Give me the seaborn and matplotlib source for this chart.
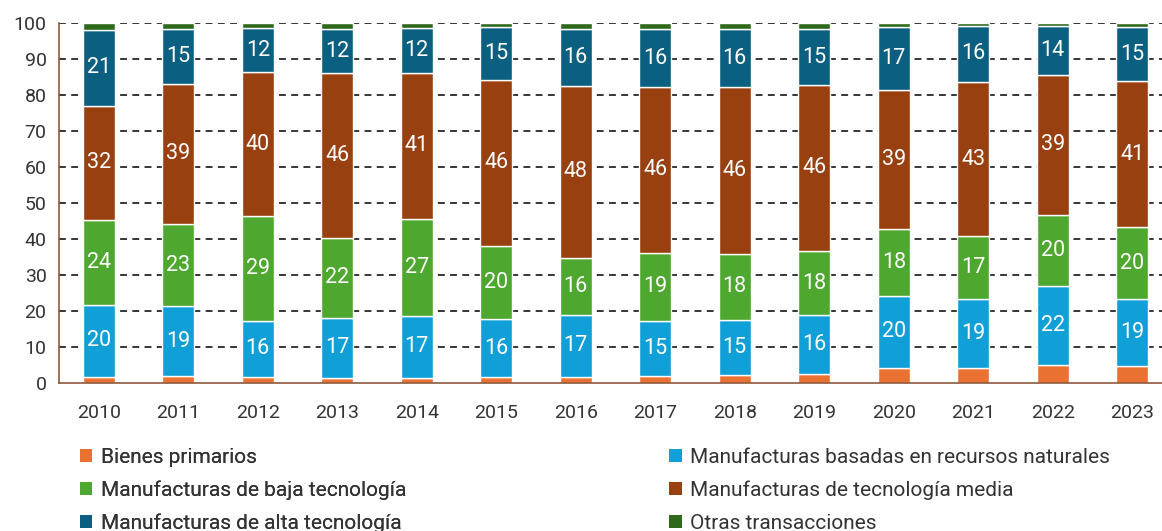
import numpy as np
import pandas as pd
import seaborn as sns
import matplotlib.pyplot as plt
from matplotlib.patches import Patch

# Composición de exportaciones por intensidad tecnológica (%)
years = ["2010", "2011", "2012", "2013", "2014", "2015", "2016",
         "2017", "2018", "2019", "2020", "2021", "2022", "2023"]
bienes_primarios = [1.7, 1.9, 1.7, 1.5, 1.5, 1.6, 1.7, 1.9, 2.2, 2.6, 4.1, 4.3, 5.0, 4.7]
recursos_naturales = [20.1, 19.4, 15.6, 16.6, 17.1, 16.1, 17.2, 15.4, 15.4, 16.2, 20.2, 19.0, 22.0, 18.6]
baja_tecnologia = [23.6, 22.9, 29.1, 22.3, 26.9, 20.4, 15.9, 18.9, 18.2, 17.9, 18.4, 17.4, 19.7, 19.9]
tecnologia_media = [31.6, 38.9, 39.9, 45.6, 40.7, 46.2, 47.8, 46.0, 46.3, 46.1, 38.7, 42.9, 38.9, 40.6]
alta_tecnologia = [21.1, 15.3, 12.2, 12.4, 12.4, 14.6, 15.8, 16.0, 16.2, 15.4, 17.4, 15.6, 13.7, 15.1]
otras = [1.9, 1.6, 1.5, 1.6, 1.4, 1.1, 1.6, 1.8, 1.7, 1.8, 1.2, 0.8, 0.7, 1.1]

series = ["Bienes primarios",
          "Manufacturas basadas en recursos naturales",
          "Manufacturas de baja tecnología",
          "Manufacturas de tecnología media",
          "Manufacturas de alta tecnología",
          "Otras transacciones"]
colors = ["#E97132", "#119FD7", "#4EA72E", "#994011", "#0B5F80", "#2F6A1C"]
labelled = [False, True, True, True, True, False]

df = pd.DataFrame({"year": years,
                   series[0]: bienes_primarios,
                   series[1]: recursos_naturales,
                   series[2]: baja_tecnologia,
                   series[3]: tecnologia_media,
                   series[4]: alta_tecnologia,
                   series[5]: otras})

sns.set_style("white")
plt.rcParams["font.family"] = ["Roboto", "DejaVu Sans"]

fig = plt.figure(figsize=(11.62, 5.31), dpi=100)
ax = fig.add_axes([59 / 1162, 148 / 531, 1113 / 1162, 360 / 531])

axis_col = "#8B5A3C"
for yv in range(10, 101, 10):
    ax.axhline(yv, color="black", lw=1.1, ls=(0, (4.5, 3.5)), zorder=0)

bottom = np.zeros(len(years))
for name, col, lab in zip(series, colors, labelled):
    sns.barplot(data=df, x="year", y=name, color=col, width=0.4,
                bottom=bottom, ax=ax, zorder=2, saturation=1)
    bars = ax.containers[-1]
    if lab:
        ax.bar_label(bars, labels=[f"{v:.0f}" for v in df[name]],
                     label_type="center", color="white", fontsize=15.5)
    bottom = bottom + df[name].to_numpy()

ax.set_xlim(-0.5, len(years) - 0.5)
ax.set_ylim(0, 100)
ax.set_yticks(range(0, 101, 10))
ax.set_xlabel("")
ax.set_ylabel("")

ax.set_xticks(np.arange(len(years)))
ax.set_xticklabels(years)
ax.set_xticks(np.arange(-0.5, len(years), 1), minor=True)
ax.tick_params(axis="x", which="major", length=0, pad=15, labelsize=14, labelcolor="#333333")
ax.tick_params(axis="x", which="minor", length=7, width=1.2, color=axis_col, direction="out")
ax.tick_params(axis="y", length=6, width=1.2, color=axis_col, direction="out",
               labelsize=14, labelcolor="#333333", pad=3)

for s in ["top", "right"]:
    ax.spines[s].set_visible(False)
for s in ["left", "bottom"]:
    ax.spines[s].set_color(axis_col)
    ax.spines[s].set_linewidth(1.2)

handles = [Patch(facecolor=c, edgecolor="none") for c in colors]
leg_kw = dict(loc="upper left", frameon=False, fontsize=15, handlelength=0.6,
              handleheight=0.6, handletextpad=0.4, labelspacing=0.65,
              labelcolor="#333333", borderpad=0, borderaxespad=0)
leg1 = fig.legend(handles[0::2], series[0::2], bbox_to_anchor=(80 / 1162, 1 - 448 / 531), **leg_kw)
fig.add_artist(leg1)
fig.legend(handles[1::2], series[1::2], bbox_to_anchor=(669 / 1162, 1 - 448 / 531), **leg_kw)

fig.savefig("out.png", dpi=100)
